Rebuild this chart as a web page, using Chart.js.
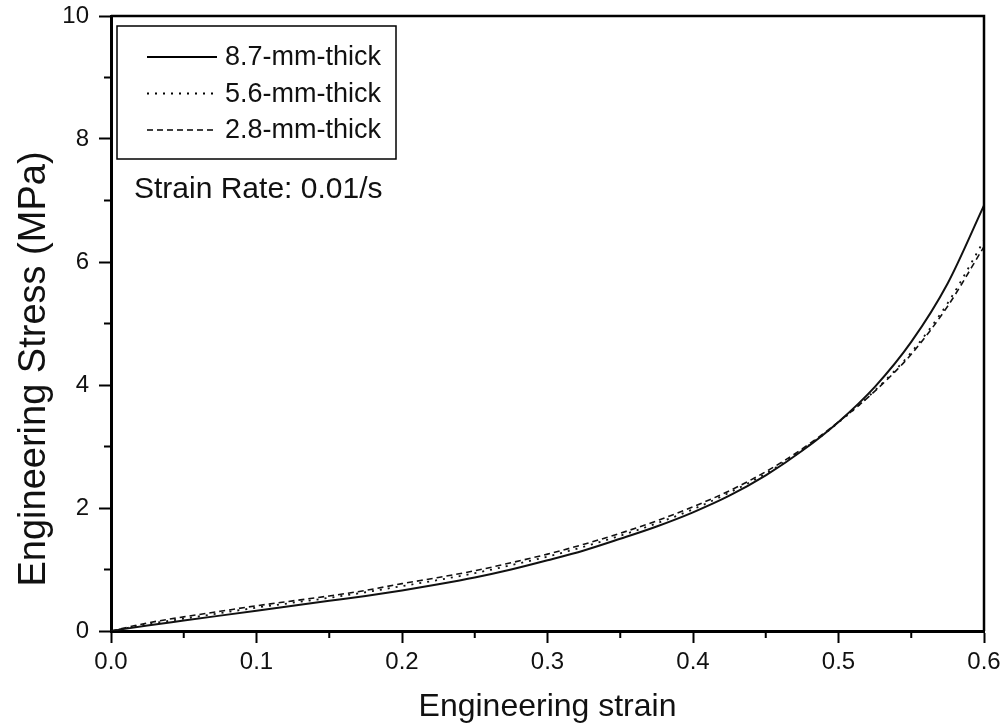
<!DOCTYPE html>
<html>
<head>
<meta charset="utf-8">
<script src="https://cdn.jsdelivr.net/npm/chart.js@4.4.0/dist/chart.umd.min.js"></script>
<style>
  html, body { margin: 0; padding: 0; background: #fff; }
  #wrap { width: 1001px; height: 728px; }
</style>
</head>
<body>
<div id="wrap"><canvas id="c" width="1001" height="728"></canvas></div>
<script>
// ── Data ──────────────────────────────────────────────────────
const strain = [0, 0.025, 0.05, 0.075, 0.1, 0.125, 0.15, 0.175, 0.2, 0.225, 0.25, 0.275,
                0.3, 0.325, 0.35, 0.375, 0.4, 0.425, 0.45, 0.475, 0.5, 0.525, 0.55, 0.575, 0.6];

const stress87 = [0, 0.09, 0.17, 0.25, 0.33, 0.41, 0.49, 0.57, 0.66, 0.76, 0.87, 1.00,
                  1.15, 1.31, 1.50, 1.70, 1.93, 2.20, 2.53, 2.93, 3.40, 3.97, 4.70, 5.65, 6.92];
const stress56 = [0, 0.11, 0.20, 0.29, 0.38, 0.46, 0.54, 0.63, 0.73, 0.83, 0.94, 1.07,
                  1.21, 1.37, 1.55, 1.75, 1.98, 2.25, 2.56, 2.94, 3.39, 3.91, 4.53, 5.33, 6.35];
const stress28 = [0, 0.13, 0.23, 0.32, 0.41, 0.49, 0.57, 0.66, 0.77, 0.87, 0.98, 1.11,
                  1.25, 1.41, 1.59, 1.79, 2.02, 2.28, 2.59, 2.96, 3.40, 3.90, 4.50, 5.28, 6.25];

const seriesLabels = ['8.7-mm-thick', '5.6-mm-thick', '2.8-mm-thick'];
const xTicks = [0, 0.1, 0.2, 0.3, 0.4, 0.5, 0.6];
const yTicks = [0, 2, 4, 6, 8, 10];
const xMinor = [0.05, 0.15, 0.25, 0.35, 0.45, 0.55];
const yMinor = [1, 3, 5, 7, 9];
const noteText = 'Strain Rate: 0.01/s';
const yTitle = 'Engineering Stress (MPa)';

const FONT = '"Liberation Sans", Arial, sans-serif';
const toPts = ys => strain.map((x, i) => ({ x, y: ys[i] }));

const DASH = [[], [2, 6], [6, 4]];
const WIDTH = [2, 1.8, 1.6];

// ── Plugins: frame, minor ticks, legend box, note, y title ───
const decor = {
    id: 'decor',
    afterDraw(chart) {
        const { ctx, chartArea: a, scales } = chart;
        ctx.save();
        ctx.strokeStyle = '#000';
        // top + right frame
        ctx.lineWidth = 2.5;
        ctx.beginPath();
        ctx.moveTo(a.left, a.top); ctx.lineTo(a.right, a.top); ctx.lineTo(a.right, a.bottom);
        ctx.stroke();
        // minor ticks
        ctx.lineWidth = 2;
        ctx.beginPath();
        xMinor.forEach(v => {
            const px = scales.x.getPixelForValue(v);
            ctx.moveTo(px, a.bottom); ctx.lineTo(px, a.bottom + 7);
        });
        yMinor.forEach(v => {
            const py = scales.y.getPixelForValue(v);
            ctx.moveTo(a.left, py); ctx.lineTo(a.left - 7, py);
        });
        ctx.stroke();

        // legend
        const bx = a.left + 6, by = a.top + 10, bw = 279, bh = 133;
        ctx.lineWidth = 1.5;
        ctx.strokeRect(bx, by, bw, bh);
        ctx.font = `27px ${FONT}`;
        ctx.fillStyle = '#111';
        ctx.textBaseline = 'middle';
        chart.data.datasets.forEach((ds, i) => {
            const y = by + 31 + i * 36.5;
            ctx.lineWidth = ds.borderWidth;
            ctx.setLineDash(ds.borderDash || []);
            ctx.beginPath();
            ctx.moveTo(bx + 30, y); ctx.lineTo(bx + 100, y);
            ctx.stroke();
            ctx.setLineDash([]);
            ctx.fillText(ds.label, bx + 108, y + 1);
        });

        // note
        ctx.font = `30px ${FONT}`;
        ctx.fillText(noteText, a.left + 23, a.top + 174);

        // y axis title (sits lower than the plot's centre in the original)
        ctx.translate(35, 369);
        ctx.rotate(-Math.PI / 2);
        ctx.textAlign = 'center';
        ctx.font = `38px ${FONT}`;
        ctx.fillText(yTitle, 0, 0);
        ctx.restore();
    }
};

new Chart(document.getElementById('c'), {
    type: 'line',
    data: {
        datasets: [stress87, stress56, stress28].map((ys, i) => ({
            label: seriesLabels[i],
            data: toPts(ys),
            borderColor: '#111',
            borderWidth: WIDTH[i],
            borderDash: DASH[i],
            pointRadius: 0,
            fill: false,
            cubicInterpolationMode: 'monotone',
        })),
    },
    options: {
        responsive: false, animation: false,
        layout: { padding: { left: 0, right: 17, top: 16, bottom: 0 } },
        plugins: { legend: { display: false }, tooltip: { enabled: false } },
        scales: {
            x: {
                type: 'linear', min: 0, max: 0.6,
                afterBuildTicks: s => { s.ticks = xTicks.map(value => ({ value })); },
                afterFit: s => { s.height = 97; s.paddingLeft = 0; s.paddingRight = 0; },
                grid: { drawOnChartArea: false, drawTicks: true, tickLength: 12, tickWidth: 2, tickColor: '#000' },
                border: { color: '#000', width: 3 },
                ticks: { color: '#111', padding: 5, font: { family: FONT, size: 24 },
                         callback: v => v.toFixed(1), maxRotation: 0 },
                title: { display: true, text: 'Engineering strain', color: '#111',
                         font: { family: FONT, size: 32 }, padding: { top: 0, bottom: 2 } },
            },
            y: {
                type: 'linear', min: 0, max: 10,
                afterBuildTicks: s => { s.ticks = yTicks.map(value => ({ value })); },
                afterFit: s => { s.width = 111; s.paddingTop = 0; s.paddingBottom = 0; },
                grid: { drawOnChartArea: false, drawTicks: true, tickLength: 12, tickWidth: 2, tickColor: '#000' },
                border: { color: '#000', width: 3 },
                ticks: { color: '#111', padding: 10, font: { family: FONT, size: 24 } },
                title: { display: false },
            },
        },
    },
    plugins: [decor],
});
</script>
</body>
</html>
